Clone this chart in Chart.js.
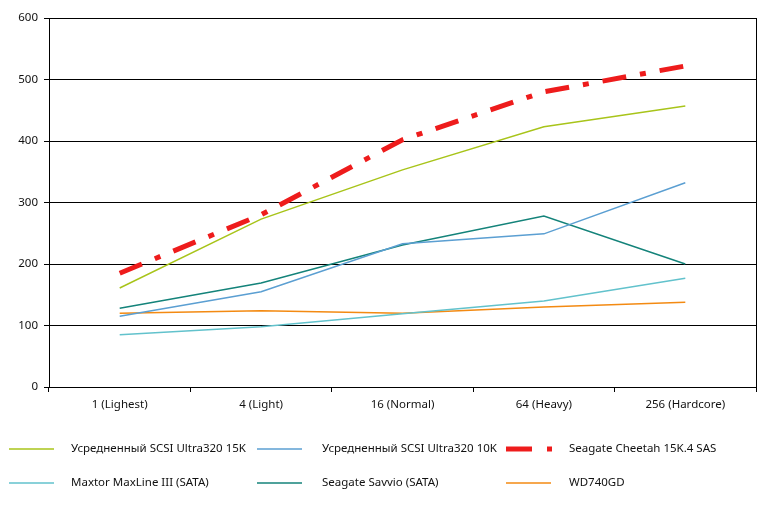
<!DOCTYPE html>
<html lang="ru">
<head>
<meta charset="UTF-8">
<title>Chart</title>
<script src="https://cdn.jsdelivr.net/npm/chart.js"></script>
<style>
    html, body { margin: 0; padding: 0; background: #fff; }
    #wrap { width: 766px; height: 508px; position: relative; }
</style>
</head>
<body>
<div id="wrap"><canvas id="myChart"></canvas></div>
<script>
// данные
var categories = ['1 (Lighest)', '4 (Light)', '16 (Normal)', '64 (Heavy)', '256 (Hardcore)'];
var scsi15k  = [161, 273, 353, 423, 457];
var scsi10k  = [115, 155, 233, 249, 332];
var cheetah  = [185, 280, 402, 480, 522];
var maxtor   = [85, 98, 119, 140, 177];
var savvio   = [128, 169, 231, 278, 200];
var wd740    = [120, 124, 120, 130, 138];
var yTicks   = [0, 100, 200, 300, 400, 500, 600];

var FONT = '"Noto Sans", "Open Sans", sans-serif';
var TEXT = '#111';

function line(label, data, color) {
    return {
        label: label, data: data, borderColor: color, backgroundColor: color,
        borderWidth: 1.5, pointRadius: 0, fill: false, tension: 0
    };
}

var datasets = [
    line('Усредненный SCSI Ultra320 15K', scsi15k, '#a8c41a'),
    line('Усредненный SCSI Ultra320 10K', scsi10k, '#5b9fd2'),
    Object.assign(line('Seagate Cheetah 15K.4 SAS', cheetah, '#ee1c1c'), { borderWidth: 5, borderDash: [24, 14, 6, 14] }),
    line('Maxtor MaxLine III (SATA)', maxtor, '#62c2cc'),
    line('Seagate Savvio (SATA)', savvio, '#14837a'),
    line('WD740GD', wd740, '#f38a12')
];
// красная линия поверх остальных
datasets[2].order = -1;

// легенда в три колонки
var legendGrid = {
    id: 'legendGrid',
    afterDraw: function (chart) {
        var ctx = chart.ctx;
        var cols = [{ x: 9, tx: 71 }, { x: 257, tx: 322 }, { x: 506, tx: 569 }];
        var rows = [449, 483];
        ctx.save();
        ctx.font = '11.5px ' + FONT;
        ctx.textBaseline = 'middle';
        chart.data.datasets.forEach(function (ds, i) {
            var c = cols[i % 3], y = rows[Math.floor(i / 3)];
            ctx.strokeStyle = ds.borderColor;
            if (ds.borderDash) {
                ctx.lineWidth = 5;
                ctx.beginPath(); ctx.moveTo(c.x, y); ctx.lineTo(c.x + 26, y); ctx.stroke();
                ctx.beginPath(); ctx.moveTo(c.x + 41, y); ctx.lineTo(c.x + 46, y); ctx.stroke();
            } else {
                ctx.lineWidth = 1.5;
                ctx.beginPath(); ctx.moveTo(c.x, y); ctx.lineTo(c.x + 45, y); ctx.stroke();
            }
            ctx.fillStyle = TEXT;
            ctx.fillText(ds.label, c.tx, y);
        });
        ctx.restore();
    }
};

// правая рамка области графика
var rightBorder = {
    id: 'rightBorder',
    beforeDatasetsDraw: function (chart) {
        var a = chart.chartArea, ctx = chart.ctx;
        ctx.save();
        ctx.strokeStyle = '#000';
        ctx.lineWidth = 1;
        ctx.beginPath();
        ctx.moveTo(Math.round(a.right) + 0.5, a.top);
        ctx.lineTo(Math.round(a.right) + 0.5, a.bottom + 5);
        ctx.stroke();
        ctx.restore();
    }
};

var ctx = document.getElementById('myChart').getContext('2d');
var myChart = new Chart(ctx, {
    type: 'line',
    data: { labels: categories, datasets: datasets },
    plugins: [legendGrid, rightBorder],
    options: {
        responsive: true,
        maintainAspectRatio: false,
        animation: false,
        layout: { padding: { left: 0, right: 10, top: 18, bottom: 91 } },
        plugins: { legend: { display: false }, tooltip: { enabled: false } },
        scales: {
            x: {
                offset: true,
                grid: { display: true, drawOnChartArea: false, drawTicks: true, tickLength: 5, color: '#000', offset: true },
                border: { display: true, color: '#000', width: 1 },
                ticks: { color: TEXT, font: { family: FONT, size: 11.5 }, padding: 6, maxRotation: 0 },
                afterFit: function (s) { s.height = 30; }
            },
            y: {
                min: 0, max: 600,
                afterBuildTicks: function (s) { s.ticks = yTicks.map(function (v) { return { value: v }; }); },
                grid: { color: '#000', lineWidth: 1, tickLength: 5 },
                border: { display: true, color: '#000', width: 1 },
                ticks: { color: TEXT, font: { family: FONT, size: 11.5 }, padding: 6 },
                afterFit: function (s) { s.width = 49; }
            }
        }
    }
});
</script>
</body>
</html>
